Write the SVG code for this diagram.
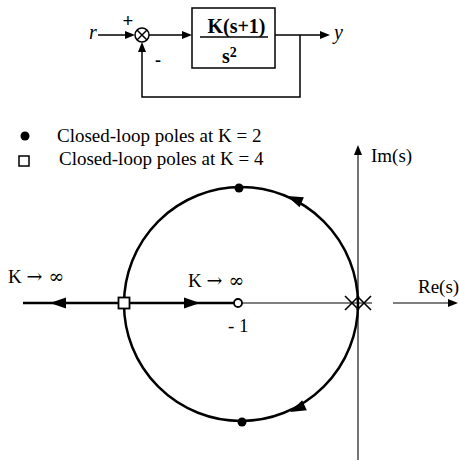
<svg xmlns="http://www.w3.org/2000/svg" width="459" height="461" viewBox="0 0 459 461">
<defs>
<style>
text{font-family:"Liberation Serif","Times New Roman",serif;fill:#000}
.lbl{font-size:19px}
.sym{font-family:"DejaVu Serif",serif}
.bd{stroke:#000;stroke-width:1.5;fill:none}
.thick{stroke:#000;stroke-width:2.5;fill:none}
.thin{stroke:#000;stroke-width:1.1;fill:none}
</style>
<path id="ah" d="M0,0 L-16,-5.5 L-16,5.5 Z" fill="#000"/>
<path id="ahs" d="M0,0 L-10,-4 L-10,4 Z" fill="#000"/>
</defs>
<rect width="459" height="461" fill="#fff"/>

<!-- Block diagram -->
<g id="input">
<text x="89" y="39" font-size="20" font-style="italic">r</text>
</g>
<g id="sum">
<circle cx="142" cy="35" r="7" class="bd"/>
<line x1="137" y1="30" x2="147" y2="40" class="bd"/>
<line x1="137" y1="40" x2="147" y2="30" class="bd"/>
<text x="128" y="27" font-size="19" font-weight="bold" text-anchor="middle">+</text>
<text x="158" y="66" font-size="18" font-weight="bold" text-anchor="middle">-</text>
</g>
<g id="plant">
<rect x="192" y="8" width="83" height="60" class="bd"/>
<text x="236.5" y="33" font-size="20" font-weight="bold" text-anchor="middle">K(s+1)</text>
<line x1="200" y1="37" x2="268" y2="37" class="bd"/>
<text x="222" y="63" font-size="20" font-weight="bold">s<tspan dy="-6" font-size="14">2</tspan></text>
</g>
<g id="output">
<text x="334" y="39" font-size="20" font-style="italic">y</text>
</g>
<g id="connectors">
<line x1="98" y1="35" x2="128" y2="35" class="bd"/>
<use href="#ahs" transform="translate(135,35)"/>
<line x1="149" y1="35" x2="184" y2="35" class="bd"/>
<use href="#ahs" transform="translate(192,35)"/>
<line x1="275" y1="35" x2="322" y2="35" class="bd"/>
<use href="#ahs" transform="translate(330,35)"/>
<polyline points="300,35 300,97 142,97 142,50" class="bd"/>
<use href="#ahs" transform="translate(142,42) rotate(-90)"/>
</g>

<!-- Legend -->
<g id="legend">
<circle cx="25" cy="136" r="4.5" fill="#000"/>
<text x="57" y="142" class="lbl">Closed-loop poles at K = 2</text>
<rect x="19" y="156" width="10" height="10" fill="#fff" stroke="#000" stroke-width="1.5"/>
<text x="59" y="165" class="lbl">Closed-loop poles at K = 4</text>
</g>

<!-- Axes -->
<g id="axes">
<line x1="358" y1="460" x2="358" y2="152" class="thin"/>
<use href="#ahs" transform="translate(358,145) rotate(-90)"/>
<line x1="238" y1="303" x2="372" y2="303" class="thin"/>
<line x1="393" y1="303" x2="450" y2="303" class="thin"/>
<use href="#ahs" transform="translate(458,303)"/>
<text x="371" y="162" class="lbl">Im(s)</text>
<text x="418" y="293" class="lbl">Re(s)</text>
</g>

<!-- Root locus -->
<g id="locus">
<circle cx="241" cy="304" r="117" class="thick"/>
<line x1="23" y1="303" x2="234" y2="303" class="thick"/>
<use href="#ah" transform="translate(50,303) rotate(180)"/>
<use href="#ah" transform="translate(200,303)"/>
<use href="#ah" transform="translate(287,196) rotate(203)"/>
<use href="#ah" transform="translate(290,412) rotate(155)"/>
</g>
<g id="poles">
<line x1="345" y1="296" x2="359" y2="310" stroke="#000" stroke-width="1.6"/>
<line x1="345" y1="310" x2="359" y2="296" stroke="#000" stroke-width="1.6"/>
<line x1="357" y1="296" x2="371" y2="310" stroke="#000" stroke-width="1.6"/>
<line x1="357" y1="310" x2="371" y2="296" stroke="#000" stroke-width="1.6"/>
</g>
<g id="zero">
<circle cx="238" cy="303" r="4" fill="#fff" stroke="#000" stroke-width="1.8"/>
<text x="228" y="332" class="lbl">- 1</text>
</g>
<g id="cl-poles">
<circle cx="239" cy="188" r="4.5" fill="#000"/>
<circle cx="242" cy="422" r="4.5" fill="#000"/>
<rect x="118.5" y="297.5" width="11" height="11" fill="#fff" stroke="#000" stroke-width="1.8"/>
</g>
<g id="labels">
<text x="8" y="283" class="lbl">K <tspan class="sym">→ ∞</tspan></text>
<text x="188" y="287" class="lbl">K <tspan class="sym">→ ∞</tspan></text>
</g>
</svg>
